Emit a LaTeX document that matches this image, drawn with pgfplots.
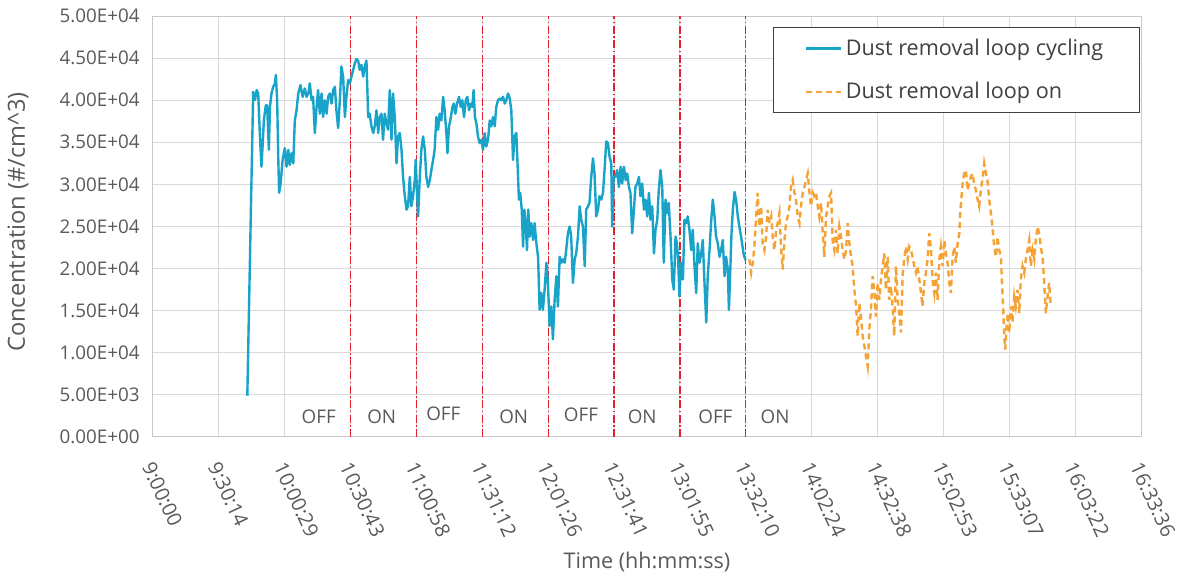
\documentclass[border=0pt]{standalone}
\usepackage{fontspec}
\setmainfont{Open Sans}
\usepackage{pgfplots}
\pgfplotsset{compat=1.18}

\definecolor{dustblue}{RGB}{25,163,201}
\definecolor{dustorange}{RGB}{245,162,55}
\definecolor{cyclered}{RGB}{228,32,45}
\definecolor{gridgray}{RGB}{217,217,217}
\definecolor{axisgray}{RGB}{200,200,200}
\definecolor{textgray}{RGB}{89,89,89}
\definecolor{legendframe}{RGB}{64,64,64}

\begin{document}
\begin{tikzpicture}
% page frame around the plot area (plot area spans 494pt x 210.5pt)
\path[use as bounding box] (-76.5pt,-70.5pt) rectangle (518.5pt,218.5pt);
\begin{axis}[
  at={(0pt,0pt)}, anchor=south west,
  scale only axis,
  width=494pt, height=210.5pt,
  xmin=0, xmax=453.6,
  ymin=0, ymax=50000,
  xtick={0,30.24,60.48,90.72,120.96,151.2,181.44,211.68,241.92,272.16,302.4,332.64,362.88,393.12,423.36,453.6},
  xticklabels={9:00:00,9:30:14,10:00:29,10:30:43,11:00:58,11:31:12,12:01:26,12:31:41,13:01:55,13:32:10,14:02:24,14:32:38,15:02:53,15:33:07,16:03:22,16:33:36},
  ytick={0,5000,10000,15000,20000,25000,30000,35000,40000,45000,50000},
  yticklabels={0.00E+00,5.00E+03,1.00E+04,1.50E+04,2.00E+04,2.50E+04,3.00E+04,3.50E+04,4.00E+04,4.50E+04,5.00E+04},
  scaled y ticks=false,
  grid=major,
  grid style={gridgray, line width=0.5pt},
  axis line style={axisgray, line width=0.5pt},
  tick style={draw=none},
  xticklabel style={rotate=-65, anchor=north west, inner sep=0pt, xshift=10.85pt, yshift=-4pt,
    font=\fontsize{10}{12}\selectfont, text=textgray},
  yticklabel style={inner sep=0pt, xshift=-6.5pt, font=\fontsize{9.4}{11}\selectfont, text=textgray},
  legend style={at={(rel axis cs:0.999,0.974)}, anchor=north east,
    draw=legendframe, line width=0.7pt, fill=white,
    font=\fontsize{10.8}{13}\selectfont, text=legendframe,
    inner xsep=16pt, inner ysep=3.5pt, row sep=8pt},
  legend cell align=left,
]

% on/off switching instants of the dust removal loop
\addplot[forget plot, cyclered, line width=0.65pt, dash pattern=on 4pt off 1.2pt on 0.8pt off 1.2pt] coordinates {(90.72,0) (90.72,50000)};
\addplot[forget plot, cyclered, line width=0.65pt, dash pattern=on 4pt off 1.2pt on 0.8pt off 1.2pt] coordinates {(120.96,0) (120.96,50000)};
\addplot[forget plot, cyclered, line width=0.65pt, dash pattern=on 4pt off 1.2pt on 0.8pt off 1.2pt] coordinates {(151.2,0) (151.2,50000)};
\addplot[forget plot, cyclered, line width=0.65pt, dash pattern=on 4pt off 1.2pt on 0.8pt off 1.2pt] coordinates {(181.44,0) (181.44,50000)};
\addplot[forget plot, cyclered, line width=0.65pt, dash pattern=on 4pt off 1.2pt on 0.8pt off 1.2pt] coordinates {(211.68,0) (211.68,50000)};
\addplot[forget plot, cyclered, line width=0.65pt, dash pattern=on 4pt off 1.2pt on 0.8pt off 1.2pt] coordinates {(241.92,0) (241.92,50000)};
\addplot[forget plot, cyclered, line width=0.65pt, dash pattern=on 4pt off 1.2pt on 0.8pt off 1.2pt] coordinates {(272.16,0) (272.16,50000)};

% loop cycling (x: minutes after 9:00:00)
\addplot[dustblue, line width=1.2pt, line join=round] coordinates {
(43.3,4900) (46.0,41000) (46.8,40000) (47.6,41200) (48.3,40800) (49.1,35700) (49.8,32100) (50.3,34500)
(50.9,37600) (51.8,39400) (52.4,39400) (53.2,34100) (53.7,39200) (54.4,40800) (55.2,41600) (56.0,42000)
(56.4,43000) (57.0,40000) (57.5,33300) (57.9,29000) (58.6,30100) (59.5,32900) (60.5,34300) (61.3,32100)
(62.1,34100) (62.8,32300) (63.6,33700) (64.4,32500) (65.1,37600) (65.9,38800) (66.7,40800) (67.7,41800)
(68.7,40400) (69.7,41400) (70.5,40400) (71.3,40800) (72.0,42000) (72.8,40000) (73.5,40400) (74.3,36100)
(75.1,39200) (75.8,41200) (76.6,38400) (77.4,40800) (78.1,38000) (78.9,40000) (79.7,38400) (80.4,40400)
(81.2,40800) (82.0,39600) (82.7,41200) (83.5,41600) (84.2,38800) (85.0,36700) (85.8,40000) (86.5,44000)
(87.3,42800) (88.1,38000) (88.8,40400) (89.6,42400) (90.4,42000) (91.1,42800) (91.9,43600) (92.7,44400)
(93.4,44900) (94.2,44700) (94.9,43600) (95.7,44200) (96.5,42800) (97.2,44000) (98.0,44700) (98.8,38000)
(99.5,38400) (100.3,36900) (101.1,36100) (101.8,36900) (102.6,38800) (103.4,36100) (104.1,38000) (104.9,38400)
(105.6,35300) (106.4,38400) (107.2,37200) (107.9,36500) (108.7,41200) (109.5,35300) (110.2,40800) (111.0,38000)
(111.8,32500) (112.5,35700) (113.3,36100) (114.1,34100) (114.8,30900) (115.6,28600) (116.4,27000) (117.1,27400)
(117.9,30900) (118.6,27400) (119.4,28600) (120.2,30500) (120.6,32900) (121.2,29300) (121.7,26200) (122.5,30900)
(123.2,34100) (124.0,35700) (124.8,34100) (125.5,30900) (126.3,29700) (127.1,30500) (127.8,31700) (128.6,32900)
(129.3,34100) (130.1,38000) (130.9,36500) (131.6,38400) (132.4,37600) (133.2,40400) (133.9,38800) (134.7,36100)
(135.2,33700) (135.9,36900) (136.5,37600) (137.5,39200) (138.1,39600) (138.8,38400) (139.6,39600) (140.5,40400)
(141.3,39200) (142.0,40000) (142.8,38000) (143.6,40000) (144.3,40400) (145.1,38800) (145.9,39600) (146.6,39200)
(147.2,41200) (147.8,38000) (148.5,37200) (149.2,35700) (150.0,34900) (150.8,35300) (151.5,34100) (152.3,36100)
(153.0,34500) (153.8,35300) (154.6,37600) (155.3,36900) (156.1,38000) (156.9,36900) (157.6,39200) (158.4,40000)
(159.2,40200) (159.9,40000) (160.7,40400) (161.5,39600) (162.2,40000) (163.0,40800) (163.8,40200) (164.5,38800)
(165.3,32900) (166.0,35700) (166.8,36100) (167.6,30900) (168.0,28200) (168.6,29000) (169.3,27000) (169.9,22600)
(170.5,27000) (171.1,25400) (171.7,22200) (172.3,27000) (172.9,23800) (173.7,25400) (174.5,23400) (175.2,25400)
(176.0,23000) (176.8,21400) (177.5,15100) (178.3,17100) (179.0,15100) (179.8,17500) (180.6,20700) (181.3,18300)
(182.1,13200) (182.9,15500) (183.6,11600) (184.4,16300) (185.2,19100) (185.9,15500) (186.7,21400) (187.5,20700)
(188.2,21100) (189.0,20700) (189.7,22200) (190.5,24200) (191.3,25000) (192.0,23800) (192.8,18300) (193.6,21100)
(194.3,21800) (195.1,23800) (195.9,27400) (196.6,25800) (197.4,25000) (198.2,20300) (198.9,27000) (199.7,27400)
(200.4,27800) (201.2,30900) (202.0,33100) (202.7,31300) (203.5,26200) (204.3,27000) (205.0,28600) (205.8,28200)
(206.6,29000) (207.3,31700) (208.1,35100) (208.9,34900) (209.6,33300) (210.4,32500) (210.8,25000) (211.5,30900)
(212.4,30900) (213.1,31700) (213.9,29700) (214.7,32100) (215.4,30100) (216.2,32100) (217.0,30500) (217.7,31300)
(218.5,29700) (219.2,29000) (220.0,24200) (220.8,27000) (221.5,29700) (222.3,30100) (223.1,30900) (223.8,28600)
(224.6,30100) (225.4,27000) (226.1,28200) (226.9,26200) (227.7,29000) (228.4,25800) (229.2,27400) (230.0,21800)
(230.7,24600) (231.5,25800) (232.2,29300) (233.0,31700) (233.8,29700) (234.5,20700) (235.3,28200) (236.1,26600)
(236.8,27800) (237.6,23800) (238.4,18700) (239.1,17500) (239.9,23800) (240.5,23000) (241.1,21100) (241.7,16700)
(242.5,20700) (243.3,18700) (244.0,25800) (244.8,25400) (245.5,26200) (246.3,24600) (247.1,22200) (247.8,24600)
(248.6,20300) (249.4,17100) (250.1,23000) (250.9,20700) (251.7,21800) (252.4,23400) (253.2,18300) (254.0,13600)
(254.7,19100) (255.5,22200) (256.2,25400) (257.0,28200) (257.8,26200) (258.5,23800) (259.3,23000) (260.1,21400)
(260.8,22200) (261.6,23400) (262.4,19100) (263.1,21400) (263.9,19900) (264.4,15100) (265.0,19500) (265.6,24200)
(266.2,27000) (267.0,29100) (267.7,28200) (268.5,26200) (269.2,25000) (270.0,23800) (271.1,21800) (272.0,21000)
};
\addlegendentry{Dust removal loop cycling}

% loop kept on
\addplot[dustorange, line width=1.2pt, dash pattern=on 3pt off 2pt] coordinates {
(273.8,21100) (274.6,19500) (275.4,20700) (276.1,22600) (276.9,26200) (277.6,29000) (278.4,25000) (279.2,27400)
(279.9,23000) (280.7,22200) (281.5,23800) (282.2,27000) (283.0,25400) (283.8,26200) (284.5,23800) (285.3,22200)
(286.1,24600) (286.8,25400) (287.6,26600) (288.4,22200) (289.1,19900) (289.9,23400) (290.6,25400) (291.4,26200)
(292.2,27400) (292.9,29700) (293.7,30500) (294.5,29000) (295.2,28200) (296.0,26200) (296.8,25400) (297.5,27400)
(298.3,29000) (299.1,29700) (299.8,30500) (300.6,31300) (301.4,29000) (302.1,27400) (302.9,29000) (303.6,28600)
(304.4,29000) (305.2,27400) (305.9,26200) (306.7,27800) (307.5,24200) (308.2,21400) (309.0,26200) (309.8,27400)
(310.5,28600) (311.3,29000) (312.1,23000) (312.8,22200) (313.6,24600) (314.3,21800) (315.1,25000) (315.9,23800)
(316.6,22200) (317.4,21100) (318.2,22200) (318.9,25400) (319.7,23000) (320.5,21400) (321.2,20300) (322.0,17500)
(322.8,15500) (323.5,12000) (324.3,15900) (325.0,14300) (325.8,12000) (326.6,10800) (327.3,9600) (328.1,8400)
(328.9,12800) (329.6,15100) (330.4,19100) (331.2,17100) (331.9,14300) (332.7,18300) (333.5,16300) (334.2,18700)
(335.0,20300) (335.7,21800) (336.5,17500) (337.3,21400) (338.0,16300) (338.8,17900) (339.6,15100) (340.3,12000)
(341.1,20300) (341.9,16300) (342.6,14700) (343.4,12400) (344.2,19500) (344.9,21100) (345.7,22600) (346.5,21100)
(347.2,22600) (348.0,22200) (348.7,21400) (349.5,20300) (350.3,19500) (351.0,20300) (351.8,18700) (352.6,17100)
(353.3,15500) (354.1,18300) (354.9,19500) (355.6,21100) (356.4,24200) (357.2,22200) (357.9,18700) (358.7,17100)
(359.4,19500) (360.2,16300) (361.0,21100) (361.7,22600) (362.5,20300) (363.3,23400) (364.0,21800) (364.8,20700)
(365.6,18300) (366.3,17100) (367.1,21400) (367.9,22600) (368.6,20700) (369.4,23000) (370.2,24200) (370.6,26600)
(371.1,28200) (371.7,30100) (372.4,31300) (373.2,31700) (374.0,29300) (374.7,30100) (375.5,30900) (376.3,31300)
(377.0,30100) (377.8,29300) (378.6,28200) (379.3,27400) (380.1,29300) (380.9,30900) (381.6,32500) (382.4,31300)
(383.1,30500) (383.9,28200) (384.7,26600) (385.4,25000) (386.2,22600) (387.0,21400) (387.7,23800) (388.5,22200)
(389.3,21400) (389.7,18700) (390.3,15500) (390.9,11600) (391.3,10400) (391.9,13200) (392.5,14700) (393.1,12400)
(393.9,15500) (394.6,13600) (395.4,16700) (396.1,15500) (396.9,17500) (397.7,14700) (398.4,18700) (399.2,20300)
(400.0,19500) (400.7,21100) (401.5,22200) (402.3,23400) (403.0,20300) (403.8,22200) (404.6,21100) (405.3,23400)
(406.1,25000) (406.8,24200) (407.6,22600) (408.4,21400) (409.1,18700) (409.9,14700) (410.7,16700) (411.4,18300)
(412.2,15500)
};
\addlegendentry{Dust removal loop on}

% state of the loop in each interval
\begin{scope}[every node/.style={font=\fontsize{9.4}{11}\selectfont, text=textgray}]
\node at (axis cs:76.1,2450) {OFF};
\node at (axis cs:105.0,2450) {ON};
\node at (axis cs:133.3,2800) {OFF};
\node at (axis cs:165.6,2450) {ON};
\node at (axis cs:196.5,2650) {OFF};
\node at (axis cs:224.6,2450) {ON};
\node at (axis cs:258.2,2450) {OFF};
\node at (axis cs:285.6,2450) {ON};
\end{scope}
\end{axis}
% axis titles
\node[rotate=90, font=\fontsize{11.8}{14}\selectfont, text=textgray] at (-67.5pt,107.5pt) {Concentration (\#/cm\textasciicircum 3)};
\node[font=\fontsize{10.8}{13}\selectfont, text=textgray] at (247pt,-62.5pt) {Time (hh:mm:ss)};
\end{tikzpicture}
\end{document}
